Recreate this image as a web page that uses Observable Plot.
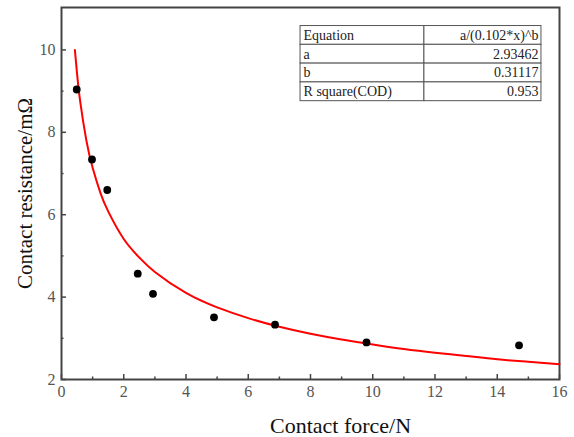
<!DOCTYPE html>
<html><head><meta charset="utf-8">
<script src="https://cdn.jsdelivr.net/npm/d3@7"></script>
<script src="https://cdn.jsdelivr.net/npm/@observablehq/plot@0.6"></script>
<style>body{margin:0;background:#fff} svg, svg text{font-family:'Liberation Serif','DejaVu Serif',serif !important}</style>
</head><body><div id="chart"></div>
<script>
// measured points
const forceN = [0.49, 0.98, 1.47, 2.45, 2.94, 4.9, 6.86, 9.8, 14.7];
const resistance = [9.04, 7.34, 6.60, 4.57, 4.08, 3.51, 3.33, 2.90, 2.83];
// fitted curve
const fitX = [0.43, 0.5, 0.6, 0.8, 1, 1.25, 1.5, 2, 2.5, 3, 4, 5, 6, 7, 8, 9, 10, 11, 12, 13, 14, 15, 16];
const fitY = [10.0, 9.42, 8.75, 7.80, 7.14, 6.53, 6.08, 5.41, 4.96, 4.61, 4.10, 3.75, 3.49, 3.28, 3.11, 2.97, 2.85, 2.74, 2.65, 2.57, 2.49, 2.43, 2.37];
// ticks
const xMajor = [0, 2, 4, 6, 8, 10, 12, 14, 16];
const xMinor = [1, 3, 5, 7, 9, 11, 13, 15];
const yMajor = [2, 4, 6, 8, 10];
const yMinor = [3, 5, 7, 9];
// table
const tableLabels = ["Equation", "a", "b", "R square(COD)"];
const tableValues = ["a/(0.102*x)^b", "2.93462", "0.31117", "0.953"];
const xLabel = "Contact force/N";
const yLabel = "Contact resistance/mΩ";

const points = forceN.map((x, i) => ({x, y: resistance[i]}));
const fit = fitX.map((x, i) => ({x, y: fitY[i]}));

// table layout (in data units)
const tL = 7.68, tM = 11.66, tR = 15.42, tTop = 10.58, rowH = 0.456;
const cells = [];
const texts = [];
tableLabels.forEach((lab, i) => {
  const y2 = tTop - i * rowH, y1 = tTop - (i + 1) * rowH;
  cells.push({x1: tL, x2: tM, y1, y2});
  cells.push({x1: tM, x2: tR, y1, y2});
  texts.push({x: tL, y: (y1 + y2) / 2, t: lab, side: "l"});
  texts.push({x: tR, y: (y1 + y2) / 2, t: tableValues[i], side: "r"});
});

const font = "'Liberation Serif', 'DejaVu Serif', serif";
const axisColor = "#444";

const chart = Plot.plot({
  width: 574, height: 437,
  marginLeft: 61, marginRight: 15, marginTop: 7, marginBottom: 58,
  style: {fontFamily: font, fontSize: "16px", background: "#fff", color: "#555"},
  x: {domain: [0, 16]},
  y: {domain: [2, 11.03]},
  marks: [
    Plot.axisX({ticks: xMajor, tickSize: -5, tickPadding: 11, label: null, stroke: axisColor, strokeWidth: 1.5, fill: "#555", fontSize: 16, fontFamily: font}),
    Plot.axisX({ticks: xMinor, tickSize: -2.5, tickPadding: 0, label: null, tickFormat: () => "", stroke: axisColor, strokeWidth: 1.5}),
    Plot.axisY({ticks: yMajor, tickSize: -5, tickPadding: 11, label: null, stroke: axisColor, strokeWidth: 1.5, fill: "#555", fontSize: 16, fontFamily: font}),
    Plot.axisY({ticks: yMinor, tickSize: -2.5, tickPadding: 0, label: null, tickFormat: () => "", stroke: axisColor, strokeWidth: 1.5}),
    Plot.frame({stroke: axisColor, strokeWidth: 2}),
    Plot.line(fit, {x: "x", y: "y", stroke: "#ff0000", strokeWidth: 2, curve: "natural"}),
    Plot.dot(points, {x: "x", y: "y", r: 3.9, fill: "#000", stroke: "none"}),
    Plot.rect(cells, {x1: "x1", x2: "x2", y1: "y1", y2: "y2", fill: "#fff", stroke: "#555", strokeWidth: 1}),
    Plot.text(texts.filter(d => d.side === "l"), {x: "x", y: "y", text: "t", textAnchor: "start", dx: 3, fill: "#222", fontSize: 14, fontFamily: font}),
    Plot.text(texts.filter(d => d.side === "r"), {x: "x", y: "y", text: "t", textAnchor: "end", dx: -3, fill: "#222", fontSize: 14, fontFamily: font}),
    Plot.text([xLabel], {frameAnchor: "bottom", text: d => d, textAnchor: "middle", lineAnchor: "middle", dy: 46, dx: 30, fontSize: 22, fill: "#111", fontFamily: font}),
    Plot.text([yLabel], {frameAnchor: "left", text: d => d, textAnchor: "middle", lineAnchor: "middle", rotate: -90, dx: -36, fontSize: 21, fill: "#111", fontFamily: font})
  ]
});
document.getElementById("chart").append(chart);
</script>
</body></html>
